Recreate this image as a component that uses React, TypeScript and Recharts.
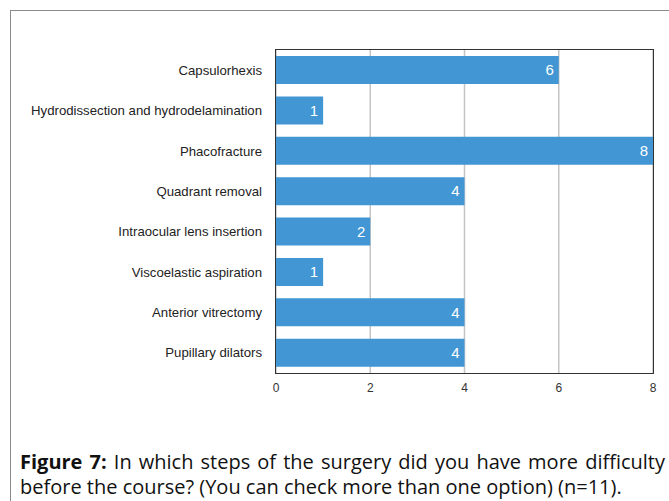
import { BarChart, Bar, XAxis, YAxis, CartesianGrid, LabelList } from "recharts"

const steps = [
  "Capsulorhexis",
  "Hydrodissection and hydrodelamination",
  "Phacofracture",
  "Quadrant removal",
  "Intraocular lens insertion",
  "Viscoelastic aspiration",
  "Anterior vitrectomy",
  "Pupillary dilators",
]
const counts = [6, 1, 8, 4, 2, 1, 4, 4]
const xTicks = [0, 2, 4, 6, 8]

const data = steps.map((step, i) => ({ step, value: counts[i] }))

const font = "Liberation Sans, Arial, sans-serif"

const W = 669
const H = 400
const M = { top: 50, right: 16, bottom: 0, left: 0 }
const Y_W = 276
const X_H = 27

export default function App() {
  return (
    <div style={{ position: "absolute", left: 0, top: 0, width: 669, height: 501, background: "white", overflow: "hidden" }}>
      <div style={{ position: "absolute", left: 10, top: 10, width: 700, height: 520, border: "1px solid #8a8a8a" }} />
      <div style={{ position: "absolute", left: 0, top: 0 }}>
        <BarChart width={W} height={H} data={data} layout="vertical" margin={M} barCategoryGap={6}>
          <CartesianGrid horizontal={false} stroke="#c4c4c4" strokeWidth={1.5} />
          <XAxis
            type="number"
            domain={[0, 8]}
            ticks={xTicks}
            height={X_H}
            axisLine={false}
            tickLine={false}
            tickSize={0}
            tickMargin={10}
            tick={{ fontSize: 12, fill: "#333", fontFamily: font }}
          />
          <YAxis
            type="category"
            dataKey="step"
            width={Y_W}
            axisLine={false}
            tickLine={false}
            tickSize={0}
            tickMargin={14}
            interval={0}
            tick={{ fontSize: 13.2, fill: "#222", fontFamily: font }}
          />
          <Bar dataKey="value" fill="#4196d3" isAnimationActive={false}>
            <LabelList
              dataKey="value"
              position="insideRight"
              offset={5}
              fill="#ffffff"
              fontSize={15}
              fontFamily={font}
            />
          </Bar>
        </BarChart>
        {/* plot frame */}
        <div
          style={{
            position: "absolute",
            left: M.left + Y_W - 1,
            top: M.top - 1,
            width: W - M.left - M.right - Y_W,
            height: H - M.top - M.bottom - X_H,
            border: "1.5px solid #333",
            pointerEvents: "none",
          }}
        />
      </div>
      <div
        style={{
          position: "absolute",
          left: 20,
          top: 449,
          width: 645,
          fontFamily: "'Open Sans', sans-serif",
          fontSize: 20,
          lineHeight: "25px",
          color: "#111",
          whiteSpace: "nowrap",
        }}
      >
        <div style={{ textAlign: "justify", textAlignLast: "justify", whiteSpace: "normal" }}>
          <b>Figure 7:</b> In which steps of the surgery did you have more difficulty
        </div>
        <div>before the course? (You can check more than one option) (n=11).</div>
      </div>
    </div>
  )
}
